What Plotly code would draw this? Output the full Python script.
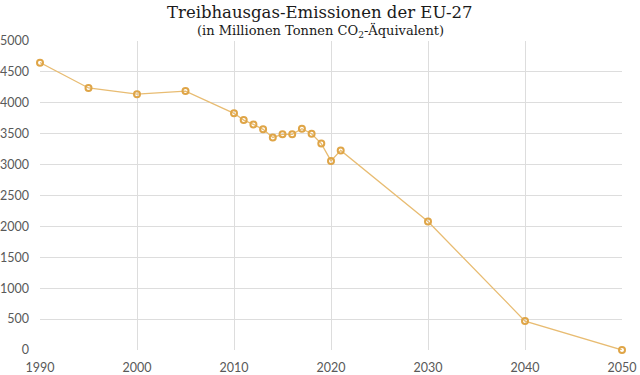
import plotly.graph_objects as go

years = [1990, 1995, 2000, 2005, 2010, 2011, 2012, 2013, 2014, 2015, 2016, 2017, 2018, 2019, 2020, 2021, 2030, 2040, 2050]
emissions = [4650, 4240, 4140, 4190, 3830, 3720, 3650, 3570, 3440, 3490, 3490, 3580, 3500, 3340, 3060, 3230, 2080, 468, 0]

title_main = "Treibhausgas-Emissionen der EU-27"
title_sub = "(in Millionen Tonnen CO<sub>2</sub>-Äquivalent)"

L, R, T, B = 40, 18, 41, 25
W, H = 640, 375
title_cx = (320 - L) / (W - L - R)

fig = go.Figure()
fig.add_trace(go.Scatter(
    x=years, y=emissions, mode="lines+markers",
    line=dict(color="#E8BC72", width=1.3),
    marker=dict(symbol="circle-open", size=6, color="#DFA547", line=dict(width=2, color="#DFA547")),
    cliponaxis=False, showlegend=False, hoverinfo="skip",
))

fig.update_layout(
    width=W, height=H,
    paper_bgcolor="white", plot_bgcolor="white",
    margin=dict(l=L, r=R, t=T, b=B, autoexpand=False),
    annotations=[
        dict(text=title_main, x=title_cx, y=1, yshift=T - 12.5, xref="paper", yref="paper",
             xanchor="center", yanchor="middle", showarrow=False,
             font=dict(family="DejaVu Serif", size=16.5, color="#1a1a1a")),
        dict(text=title_sub, x=title_cx, y=1, yshift=T - 31, xref="paper", yref="paper",
             xanchor="center", yanchor="middle", showarrow=False,
             font=dict(family="DejaVu Serif", size=13, color="#1a1a1a")),
    ],
)
fig.update_xaxes(range=[1990, 2050], tick0=1990, dtick=10, showgrid=True, gridcolor="#DDDDDD", gridwidth=1,
                 zeroline=False, showline=False, ticks="", automargin=False, ticklabelstandoff=8,
                 tickfont=dict(family="Lato", size=12.5, color="#595959"))
fig.update_yaxes(range=[0, 5000], dtick=500, showgrid=True, gridcolor="#DDDDDD", gridwidth=1,
                 zeroline=False, showline=False, ticks="", automargin=False, ticklabelstandoff=10,
                 tickfont=dict(family="Lato", size=12.5, color="#595959"))

fig.write_html("out.html", config={"displayModeBar": False},
               post_script="document.body.style.margin='0';")
